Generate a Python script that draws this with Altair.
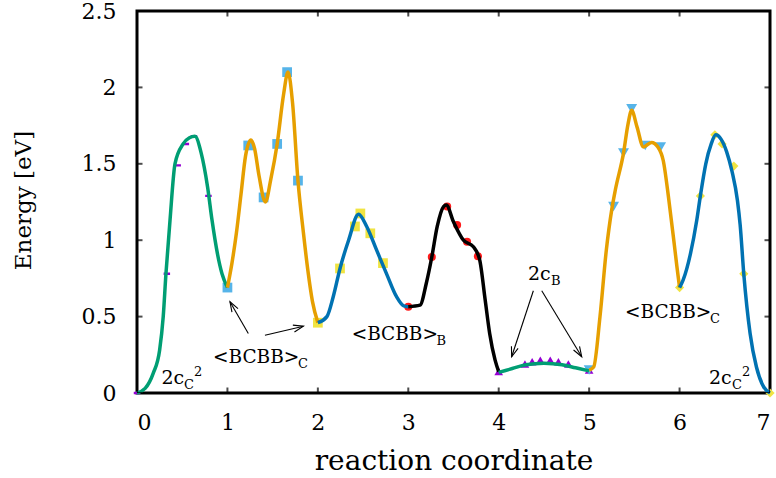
import math
import altair as alt
import pandas as pd

# ---------------- data ----------------
# smooth curve pieces, one per step of the reaction path
c1_x = [0, 0.09, 0.18, 0.25, 0.29, 0.32, 0.365, 0.42, 0.51, 0.58, 0.64, 0.71, 0.78, 0.83, 0.89, 0.94, 1.0]
c1_y = [0, 0.03, 0.13, 0.28, 0.5, 0.78, 1.13, 1.5, 1.63, 1.67, 1.68, 1.57, 1.35, 1.13, 0.91, 0.78, 0.69]
c2_x = [1.0, 1.05, 1.1, 1.15, 1.2, 1.26, 1.3, 1.35, 1.42, 1.48, 1.55, 1.62, 1.67, 1.72, 1.78, 1.84, 1.89, 1.94, 2.0]
c2_y = [0.69, 0.85, 1.05, 1.3, 1.55, 1.655, 1.6, 1.42, 1.25, 1.4, 1.63, 1.95, 2.10, 1.9, 1.39, 1.05, 0.8, 0.6, 0.46]
c3_x = [2.0, 2.1, 2.17, 2.245, 2.34, 2.45, 2.54, 2.65, 2.76, 2.87, 2.95, 3.0]
c3_y = [0.46, 0.5, 0.63, 0.815, 1.0, 1.17, 1.09, 0.935, 0.78, 0.63, 0.57, 0.565]
c4_x = [3.0, 3.13, 3.2, 3.26, 3.32, 3.39, 3.42, 3.5, 3.61, 3.72, 3.79, 3.85, 3.9, 3.96, 4.0]
c4_y = [0.565, 0.575, 0.72, 0.89, 1.09, 1.22, 1.23, 1.12, 1.0, 0.957, 0.87, 0.61, 0.39, 0.215, 0.14]
c5_x = [4.0, 4.15, 4.3, 4.5, 4.7, 4.85, 5.0]
c5_y = [0.135, 0.16, 0.185, 0.195, 0.185, 0.165, 0.145]
c6_x = [5.0, 5.05, 5.12, 5.19, 5.25, 5.29, 5.38, 5.43, 5.47, 5.53, 5.6, 5.69, 5.76, 5.82, 5.88, 5.94, 5.97, 6.0]
c6_y = [0.15, 0.17, 0.5, 0.935, 1.2, 1.33, 1.57, 1.76, 1.85, 1.74, 1.61, 1.64, 1.61, 1.52, 1.27, 0.98, 0.83, 0.69]
c7_x = [6.0, 6.04, 6.12, 6.19, 6.23, 6.29, 6.35, 6.40, 6.46, 6.52, 6.58, 6.64, 6.67, 6.71, 6.78, 6.85, 6.93, 7.0]
c7_y = [0.69, 0.74, 0.91, 1.13, 1.29, 1.50, 1.63, 1.69, 1.66, 1.58, 1.45, 1.26, 1.1, 0.78, 0.39, 0.17, 0.04, 0.0]

# computed images (markers)
p1_x = [0, 0.33, 0.45, 0.54, 0.63, 0.79]
p1_y = [0, 0.78, 1.49, 1.63, 1.68, 1.29]
p2_x = [1.0, 1.23, 1.40, 1.55, 1.66, 1.78]
p2_y = [0.69, 1.62, 1.28, 1.63, 2.10, 1.39]
p3_x = [2.0, 2.245, 2.41, 2.47, 2.58, 2.72]
p3_y = [0.46, 0.815, 1.09, 1.175, 1.045, 0.85]
p4_x = [3.0, 3.26, 3.43, 3.54, 3.65, 3.77]
p4_y = [0.565, 0.89, 1.22, 1.10, 0.99, 0.895]
p5_x = [4.0, 4.29, 4.37, 4.46, 4.57, 4.66, 4.77, 5.0]
p5_y = [0.14, 0.19, 0.205, 0.215, 0.215, 0.205, 0.19, 0.15]
p6_x = [5.0, 5.27, 5.38, 5.47, 5.62, 5.79]
p6_y = [0.15, 1.22, 1.57, 1.86, 1.62, 1.61]
p7_x = [6.0, 6.23, 6.39, 6.47, 6.60, 6.71, 7.0]
p7_y = [0.69, 1.29, 1.69, 1.63, 1.485, 0.78, 0.0]

x_ticks = [0, 1, 2, 3, 4, 5, 6, 7]
y_ticks = [0, 0.5, 1, 1.5, 2, 2.5]

# annotation text pieces (text, x, y, size)
ann_text = ["2c", "C", "2", "<BCBB>", "C", "<BCBB>", "B", "2c", "B", "<BCBB>", "C", "2c", "C", "2"]
ann_x = [0.271, 0.520, 0.630, 0.840, 1.780, 2.374, 3.312, 4.324, 4.578, 5.396, 6.336, 6.325, 6.580, 6.690]
ann_y = [0.058, 0.0255, 0.111, 0.196, 0.163, 0.346, 0.313, 0.739, 0.706, 0.490, 0.457, 0.058, 0.0255, 0.111]
ann_size = [19, 13, 13, 18.5, 13, 18.5, 13, 19, 13, 18.5, 13, 19, 13, 13]

# arrows (tail -> tip)
arr_x = [1.231, 1.415, 4.383, 4.476]
arr_y = [0.390, 0.378, 0.669, 0.669]
arr_x2 = [1.028, 1.840, 4.143, 4.918]
arr_y2 = [0.597, 0.437, 0.237, 0.237]

# ---------------- chart ----------------
W, H = 633, 382
XMAX, YMAX = 7, 2.5
SERIF = "DejaVu Serif"

xs = alt.Scale(domain=[0, XMAX], nice=False, zero=False)
ys = alt.Scale(domain=[0, YMAX], nice=False, zero=False)

X = alt.X("x:Q", scale=xs, axis=alt.Axis(values=x_ticks, title="reaction coordinate", format="~g",
                                         ticks=False, tickSize=0, domain=False, grid=False,
                                         labelPadding=19, titleY=76, titleBaseline="alphabetic"))
Y = alt.Y("y:Q", scale=ys, axis=alt.Axis(values=y_ticks, title="Energy [eV]", format="~g",
                                         ticks=False, tickSize=0, domain=False, grid=False,
                                         labelPadding=21, titleX=-107, titleY=H / 2 - 2,
                                         titleBaseline="alphabetic", titleAnchor="middle"))


def df(xv, yv):
    return pd.DataFrame({"x": xv, "y": yv})


curves = [(c1_x, c1_y, "#009e73"), (c2_x, c2_y, "#e69f00"), (c3_x, c3_y, "#0072b2"),
          (c4_x, c4_y, "#000000"), (c5_x, c5_y, "#009e73"), (c6_x, c6_y, "#e69f00"),
          (c7_x, c7_y, "#0072b2")]

plus_shape = "M-1,0H1M0,-0.35V0.35"
points = [
    (p1_x, p1_y, "#9400d3", plus_shape, 42, False),
    (p2_x, p2_y, "#56b4e9", "square", 95, True),
    (p3_x, p3_y, "#f0e442", "square", 95, True),
    (p4_x, p4_y, "#ff1a1a", "circle", 65, True),
    (p5_x, p5_y, "#9400d3", "triangle-up", 75, True),
    (p6_x, p6_y, "#56b4e9", "triangle-down", 120, True),
    (p7_x, p7_y, "#f0e442", "diamond", 85, True),
]

layers = []
for px, py, col, shp, sz, filled in points:
    if filled:
        m = alt.Chart(df(px, py)).mark_point(shape=shp, size=sz, filled=True, color=col, opacity=1)
    else:
        m = alt.Chart(df(px, py)).mark_point(shape=shp, size=sz, filled=False, color=col,
                                             strokeWidth=2.4, opacity=1)
    layers.append(m.encode(x=X, y=Y))

for cx, cy, col in curves:
    layers.append(alt.Chart(df(cx, cy)).mark_line(color=col, strokeWidth=3.5, interpolate="monotone")
                  .encode(x=X, y=Y))

# inward frame ticks (half of each tick is clipped away)
tick_style = dict(color="black", thickness=2, size=11, clip=True)
layers.append(alt.Chart(df([0] * len(y_ticks), y_ticks)).mark_tick(orient="horizontal", **tick_style).encode(x=X, y=Y))
layers.append(alt.Chart(df([XMAX] * len(y_ticks), y_ticks)).mark_tick(orient="horizontal", **tick_style).encode(x=X, y=Y))
layers.append(alt.Chart(df(x_ticks, [0] * len(x_ticks))).mark_tick(orient="vertical", **tick_style).encode(x=X, y=Y))
layers.append(alt.Chart(df(x_ticks, [YMAX] * len(x_ticks))).mark_tick(orient="vertical", **tick_style).encode(x=X, y=Y))

# arrows
arr = pd.DataFrame({"x": arr_x, "y": arr_y, "x2": arr_x2, "y2": arr_y2})
kx, ky = W / XMAX, H / YMAX
heads = pd.DataFrame({
    "x": arr_x2, "y": arr_y2,
    "ang": [(math.degrees(math.atan2((b - a) * kx, (d - c) * ky)) + 360) % 360
            for a, b, c, d in zip(arr_x, arr_x2, arr_y, arr_y2)],
})
layers.append(alt.Chart(arr).mark_rule(color="black", strokeWidth=1.1)
              .encode(x=X, y=Y, x2="x2:Q", y2="y2:Q"))
head = "M-0.35,1L0,0L0.35,1"
layers.append(alt.Chart(heads).mark_point(shape=head, size=400, filled=False, color="black",
                                          strokeWidth=1.1, opacity=1)
              .encode(x=X, y=Y, angle=alt.Angle("ang:Q", scale=None)))

# annotation texts
ann = pd.DataFrame({"x": ann_x, "y": ann_y, "t": ann_text, "s": ann_size})
layers.append(alt.Chart(ann).mark_text(align="left", baseline="alphabetic", font=SERIF, color="black")
              .encode(x=X, y=Y, text="t:N", size=alt.Size("s:Q", scale=None, legend=None)))

chart = alt.layer(*layers).properties(
    width=W, height=H,
    autosize=alt.AutoSizeParams(type="none"),
    padding={"left": 137, "top": 11, "right": 6, "bottom": 85},
).configure_view(stroke="black", strokeWidth=3).configure_axis(
    labelFont=SERIF, labelFontSize=22, labelColor="black",
    titleFont=SERIF, titleFontSize=23, titleFontWeight="normal", titleColor="black",
).configure_axisX(titleFontSize=28)

chart.save("out.html", embed_options={"renderer": "svg", "actions": False})
